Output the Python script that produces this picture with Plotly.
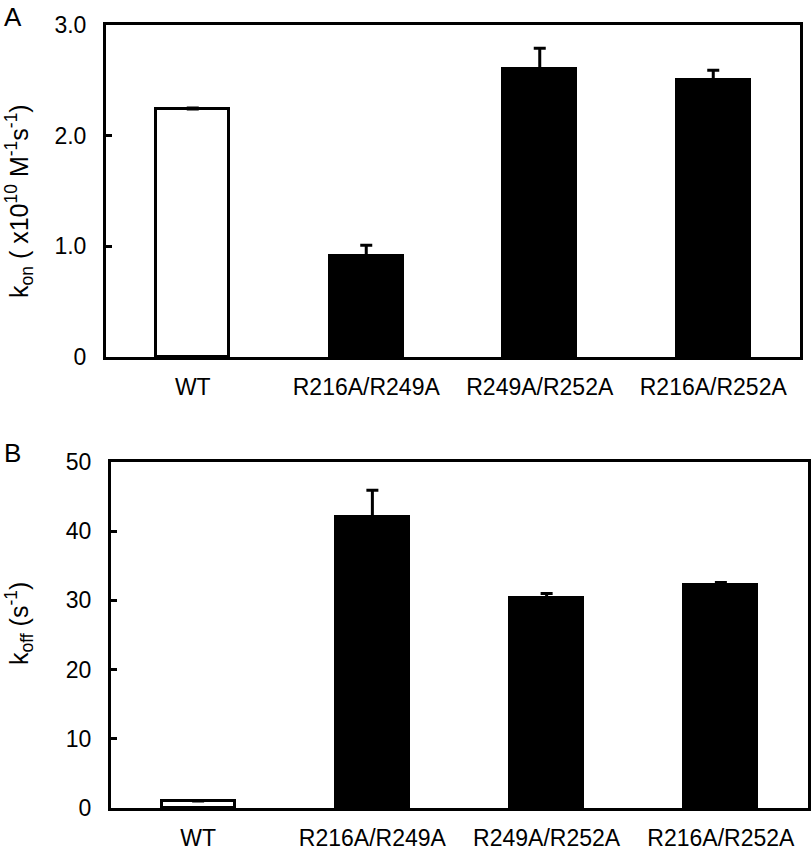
import plotly.graph_objects as go

categories = ["WT", "R216A/R249A", "R249A/R252A", "R216A/R252A"]
kon_values = [2.24, 0.91, 2.60, 2.50]
kon_errors = [0.01, 0.10, 0.19, 0.09]
koff_values = [1.0, 42.1, 30.4, 32.2]
koff_errors = [0.1, 3.8, 0.6, 0.4]
bar_colors = ["white", "black", "black", "black"]
kon_ticks = [0, 1.0, 2.0, 3.0]
kon_ticktext = ["0", "1.0", "2.0", "3.0"]
koff_ticks = [0, 10, 20, 30, 40, 50]
koff_ticktext = ["0", "10", "20", "30", "40", "50"]

W, H = 812, 851
FONT = "Liberation Sans, Arial, Helvetica, sans-serif"

def px_x(p):
    return p / W

def px_y(p):
    return 1 - p / H

fig = go.Figure()

fig.add_trace(go.Bar(
    x=categories, y=kon_values, width=0.42,
    marker=dict(color=bar_colors, line=dict(color="black", width=3)),
    error_y=dict(type="data", array=kon_errors, symmetric=False, arrayminus=[0]*4,
                 color="black", thickness=3, width=6),
    xaxis="x", yaxis="y", showlegend=False,
))
fig.add_trace(go.Bar(
    x=categories, y=koff_values, width=0.42,
    marker=dict(color=bar_colors, line=dict(color="black", width=3)),
    error_y=dict(type="data", array=koff_errors, symmetric=False, arrayminus=[0]*4,
                 color="black", thickness=3, width=6),
    xaxis="x2", yaxis="y2", showlegend=False,
))

axis_common = dict(showline=True, linecolor="black", linewidth=3, mirror=True,
                   showgrid=False, zeroline=False, automargin=False)

fig.update_layout(
    template="none",
    width=W, height=H,
    margin=dict(l=0, r=0, t=0, b=0, pad=0),
    paper_bgcolor="white", plot_bgcolor="white",
    font=dict(family=FONT, color="black"),
    bargap=0,
    xaxis=dict(domain=[px_x(106), px_x(800)], anchor="y", range=[-0.5, 3.5],
               ticks="", tickfont=dict(size=23), ticklabelstandoff=7, **axis_common),
    yaxis=dict(domain=[px_y(357), px_y(25)], anchor="x", range=[0, 3.0],
               ticks="inside", ticklen=6, tickwidth=3, tickcolor="black",
               tickvals=kon_ticks, ticktext=kon_ticktext,
               tickfont=dict(size=23), ticklabelstandoff=12, **axis_common),
    xaxis2=dict(domain=[px_x(111), px_x(808)], anchor="y2", range=[-0.5, 3.5],
                ticks="", tickfont=dict(size=23), ticklabelstandoff=7, **axis_common),
    yaxis2=dict(domain=[px_y(808), px_y(462)], anchor="x2", range=[0, 50],
                ticks="inside", ticklen=6, tickwidth=3, tickcolor="black",
                tickvals=koff_ticks, ticktext=koff_ticktext,
                tickfont=dict(size=23), ticklabelstandoff=12, **axis_common),
)

annotations = [
    dict(text="A", x=px_x(2), y=px_y(0), xanchor="left", yanchor="top",
         font=dict(size=26)),
    dict(text="B", x=px_x(2), y=px_y(436), xanchor="left", yanchor="top",
         font=dict(size=26)),
    dict(text="k<sub>on</sub> ( x10<sup>10</sup> M<sup>-1</sup>s<sup>-1</sup>)",
         x=px_x(19), y=px_y(201), textangle=-90, xanchor="center", yanchor="middle",
         font=dict(size=25)),
    dict(text="k<sub>off</sub> (s<sup>-1</sup>)",
         x=px_x(19), y=px_y(624), textangle=-90, xanchor="center", yanchor="middle",
         font=dict(size=25)),
]
for a in annotations:
    a.update(xref="paper", yref="paper", showarrow=False)
fig.update_layout(annotations=annotations)

fig.write_html("out.html", config={"displayModeBar": False},
               post_script="document.body.style.margin='0';")
